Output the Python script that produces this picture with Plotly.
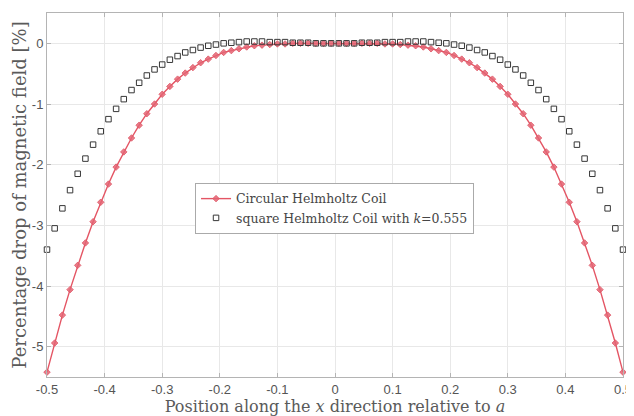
import plotly.graph_objects as go

x_pos = [-0.5, -0.4867, -0.4733, -0.46, -0.4467, -0.4333, -0.42, -0.4067, -0.3933, -0.38,
         -0.3667, -0.3533, -0.34, -0.3267, -0.3133, -0.3, -0.2867, -0.2733, -0.26, -0.2467,
         -0.2333, -0.22, -0.2067, -0.1933, -0.18, -0.1667, -0.1533, -0.14, -0.1267, -0.1133,
         -0.1, -0.0867, -0.0733, -0.06, -0.0467, -0.0333, -0.02, -0.0067,
         0.0067, 0.02, 0.0333, 0.0467, 0.06, 0.0733, 0.0867, 0.1,
         0.1133, 0.1267, 0.14, 0.1533, 0.1667, 0.18, 0.1933, 0.2067, 0.22, 0.2333,
         0.2467, 0.26, 0.2733, 0.2867, 0.3, 0.3133, 0.3267, 0.34, 0.3533, 0.3667,
         0.38, 0.3933, 0.4067, 0.42, 0.4333, 0.4467, 0.46, 0.4733, 0.4867, 0.5]

circular_drop = [-5.42, -4.94, -4.48, -4.06, -3.66, -3.29, -2.94, -2.62, -2.32, -2.04,
                 -1.79, -1.56, -1.35, -1.16, -1.00, -0.84, -0.71, -0.59, -0.49, -0.40,
                 -0.32, -0.26, -0.20, -0.15, -0.12, -0.09, -0.06, -0.04, -0.03, -0.02,
                 -0.01, -0.01, 0.00, 0.00, 0.00, 0.00, 0.00, 0.00,
                 0.00, 0.00, 0.00, 0.00, 0.00, 0.00, -0.01, -0.01,
                 -0.02, -0.03, -0.04, -0.06, -0.09, -0.12, -0.15, -0.20, -0.26, -0.32,
                 -0.40, -0.49, -0.59, -0.71, -0.84, -1.00, -1.16, -1.35, -1.56, -1.79,
                 -2.04, -2.32, -2.62, -2.94, -3.29, -3.66, -4.06, -4.48, -4.94, -5.42]

square_drop = [-3.40, -3.05, -2.72, -2.42, -2.15, -1.90, -1.67, -1.45, -1.25, -1.08,
               -0.92, -0.77, -0.65, -0.53, -0.43, -0.35, -0.27, -0.21, -0.15, -0.11,
               -0.07, -0.04, -0.02, 0.00, 0.01, 0.02, 0.03, 0.03, 0.03, 0.02,
               0.02, 0.02, 0.01, 0.01, 0.01, 0.00, 0.00, 0.00,
               0.00, 0.00, 0.00, 0.01, 0.01, 0.01, 0.02, 0.02,
               0.02, 0.03, 0.03, 0.03, 0.02, 0.01, 0.00, -0.02, -0.04, -0.07,
               -0.11, -0.15, -0.21, -0.27, -0.35, -0.43, -0.53, -0.65, -0.77, -0.92,
               -1.08, -1.25, -1.45, -1.67, -1.90, -2.15, -2.42, -2.72, -3.05, -3.40]

x_ticks = [-0.5, -0.4, -0.3, -0.2, -0.1, 0, 0.1, 0.2, 0.3, 0.4, 0.5]
x_tick_text = ["-0.5", "-0.4", "-0.3", "-0.2", "-0.1", "0", "0.1", "0.2", "0.3", "0.4", "0.5"]
y_ticks = [0, -1, -2, -3, -4, -5]
y_tick_text = ["0", "-1", "-2", "-3", "-4", "-5"]

serif = "DejaVu Serif, Liberation Serif, serif"
sans = "Liberation Sans, Arial, sans-serif"

fig = go.Figure()
fig.add_trace(go.Scatter(
    x=x_pos, y=circular_drop, mode="lines+markers",
    name="Circular Helmholtz Coil", cliponaxis=False,
    line=dict(color="rgb(228,85,100)", width=1.4),
    marker=dict(symbol="diamond", size=5, color="rgba(228,100,115,0.85)",
                line=dict(color="rgb(222,85,100)", width=0.8)),
))
fig.add_trace(go.Scatter(
    x=x_pos, y=square_drop, mode="markers",
    name="square Helmholtz Coil with <i>k</i>=0.555", cliponaxis=False,
    marker=dict(symbol="square-open", size=5.5, color="rgb(55,55,55)",
                line=dict(color="rgb(55,55,55)", width=1)),
))

axis_common = dict(
    showgrid=True, gridcolor="rgb(232,232,232)", gridwidth=1,
    showline=True, linecolor="rgb(180,180,180)", linewidth=1, mirror="ticks",
    ticks="inside", ticklen=4, tickcolor="rgb(180,180,180)",
    zeroline=False, automargin=False,
    tickfont=dict(family=sans, size=13, color="rgb(85,85,85)"),
)

fig.update_layout(
    width=626, height=408,
    margin=dict(l=39, r=11, t=5, b=39),
    paper_bgcolor="white", plot_bgcolor="white",
    xaxis=dict(range=[-0.5, 0.5], tickvals=x_ticks, ticktext=x_tick_text,
               title=dict(text="Position along the <i>x</i> direction relative to <i>a</i>",
                          font=dict(family=serif, size=16, color="rgb(90,90,90)"), standoff=0),
               **axis_common),
    yaxis=dict(range=[-5.5, 0.5], tickvals=y_ticks, ticktext=y_tick_text,
               title=dict(text="Percentage drop of magnetic field [%]",
                          font=dict(family=serif, size=18, color="rgb(90,90,90)"), standoff=0),
               **axis_common),
    legend=dict(x=0.257, y=0.533, xanchor="left", yanchor="top",
                bgcolor="white", bordercolor="rgb(170,170,170)", borderwidth=1,
                font=dict(family=serif, size=12.5, color="rgb(70,70,70)"),
                itemwidth=30, tracegroupgap=0),
    showlegend=True,
)

fig.write_html("out.html")
